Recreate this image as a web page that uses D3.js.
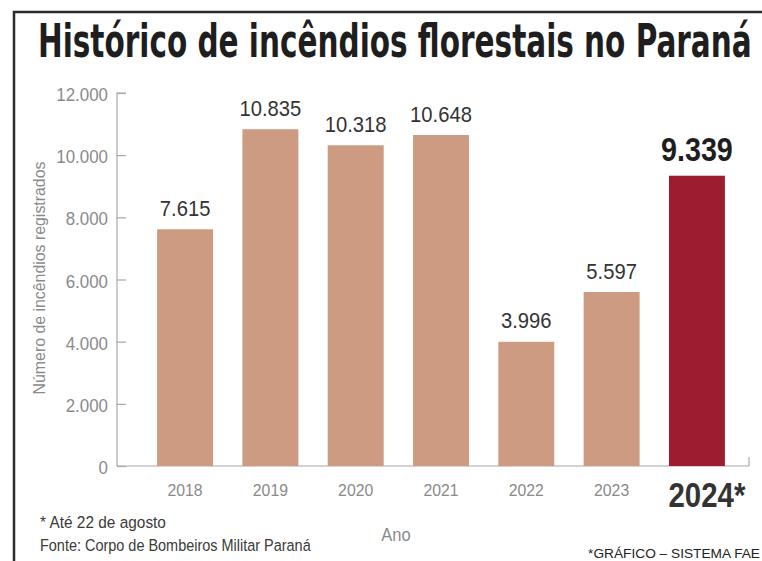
<!DOCTYPE html>
<html>
<head>
<meta charset="utf-8">
<script src="https://cdn.jsdelivr.net/npm/d3@7"></script>
<style>
  body { margin: 0; background: #fff; }
  text { font-family: "Liberation Sans", Arial, sans-serif; }
</style>
</head>
<body>
<svg width="762" height="561"></svg>
<script>
// dados
var anos = ["2018", "2019", "2020", "2021", "2022", "2023", "2024"];
var incendios = [7615, 10835, 10318, 10648, 3996, 5597, 9339];
var rotulos = ["7.615", "10.835", "10.318", "10.648", "3.996", "5.597", "9.339"];
var yTicks = [0, 2000, 4000, 6000, 8000, 10000, 12000];

var svg = d3.select("svg");
var fmt = d => d === 0 ? "0" : d3.format(",")(d).replace(/,/g, ".");
var ultimo = anos.length - 1;

// texto "condensado": posiciona com translate e estreita com scale
function txt(x, y, s, size, sx, opts) {
    opts = opts || {};
    var t = svg.append("text")
        .attr("font-size", size)
        .attr("font-weight", opts.bold ? "bold" : "normal")
        .attr("fill", opts.fill || "#333")
        .attr("text-anchor", opts.anchor || "start")
        .text(s);
    if (opts.family) t.style("font-family", opts.family);
    if (opts.width) sx = opts.width / t.node().getComputedTextLength();
    t.attr("transform", "translate(" + x + "," + y + ")" + (opts.rot ? " rotate(" + opts.rot + ")" : "") + " scale(" + sx + ",1)");
    return t;
}

// moldura (topo + esquerda)
svg.append("path")
    .attr("d", "M14,561 V12 H762")
    .attr("fill", "none")
    .attr("stroke", "#2b2b2b")
    .attr("stroke-width", 2.5);

txt(38, 57, "Histórico de incêndios florestais no Paraná", 46, 1,
    {bold: true, fill: "#1e1e1e", width: 714, family: "'DejaVu Sans Condensed', 'DejaVu Sans', sans-serif"});

var x = d3.scaleBand().domain(anos).range([117, 765]).paddingInner(0.344).paddingOuter(0.47);
var y = d3.scaleLinear().domain([0, 12000]).range([466, 93]);

// eixo y
var yAxis = svg.append("g").attr("transform", "translate(117,0)")
    .call(d3.axisRight(y).tickValues(yTicks).tickSize(9).tickFormat(""));
yAxis.select(".domain").attr("d", "M9," + y(12000) + "H0V" + y(0)).attr("stroke", "#a8a8a8").attr("stroke-width", 1.2);
yAxis.selectAll(".tick line").attr("stroke", "#a8a8a8").attr("stroke-width", 1.2);

yTicks.forEach(function(d) {
    txt(108, y(d) + 8, fmt(d), 18, 0.94, {anchor: "end", fill: "#8a8a8a"});
});

// eixo x
svg.append("path")
    .attr("d", "M117," + y(0) + "H749V" + (y(0) - 9))
    .attr("fill", "none").attr("stroke", "#a8a8a8").attr("stroke-width", 1.2);

// barras
svg.selectAll(".bar").data(anos).enter().append("rect")
    .attr("class", "bar")
    .attr("x", d => x(d)).attr("width", x.bandwidth())
    .attr("y", (d, i) => y(incendios[i]))
    .attr("height", (d, i) => y(0) - y(incendios[i]))
    .attr("fill", (d, i) => i === ultimo ? "#9d1c30" : "#cd9b82");

anos.forEach(function(d, i) {
    var cx = x(d) + x.bandwidth() / 2;
    if (i === ultimo) {
        txt(cx, y(incendios[i]) - 15, rotulos[i], 33, 0.87, {anchor: "middle", bold: true, fill: "#1e1e1e"});
        txt(cx + 10, 507, d + "*", 35, 0.84, {anchor: "middle", bold: true, fill: "#333"});
    } else {
        txt(cx, y(incendios[i]) - 13.5, rotulos[i], 22, 0.92, {anchor: "middle", fill: "#333"});
        txt(cx, 496, d, 17, 0.93, {anchor: "middle", fill: "#8a8a8a"});
    }
});

// titulos dos eixos
txt(45, 278, "Número de incêndios registrados", 17, 1,
    {anchor: "middle", fill: "#8a8a8a", rot: -90, width: 233});
txt(396, 541, "Ano", 18, 0.92, {anchor: "middle", fill: "#8a8a8a"});

// notas
txt(40, 528, "* Até 22 de agosto", 17, 1, {fill: "#3a3a3a", width: 126});
txt(40, 551, "Fonte: Corpo de Bombeiros Militar Paraná", 17, 1, {fill: "#3a3a3a", width: 271});
txt(760, 558, "*GRÁFICO – SISTEMA FAE", 13, 1, {anchor: "end", fill: "#222", width: 172});
</script>
</body>
</html>
